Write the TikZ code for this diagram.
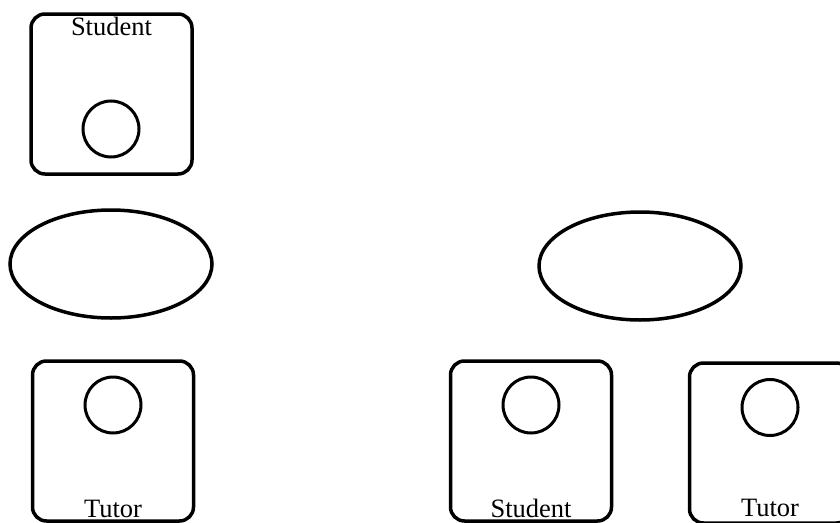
\documentclass[tikz,border=0pt]{standalone}
\usepackage{fontspec}
\setmainfont{Liberation Serif}
\usetikzlibrary{positioning,shapes.geometric}

\begin{document}
\begin{tikzpicture}[
    x=1pt, y=-1pt,
    role/.style={rectangle, draw, rounded corners=14pt, line width=3.5pt, minimum width=161pt, minimum height=160pt, inner sep=0pt},
    head/.style={circle, draw, line width=3pt, minimum size=56pt, inner sep=0pt},
    usecase/.style={ellipse, draw, line width=3.5pt, minimum width=202pt, minimum height=108pt, inner sep=0pt},
    rolename/.style={font=\fontsize{26.5}{30}\selectfont, anchor=base, inner sep=0pt}
]
\useasboundingbox (0,0) rectangle (840,522);
\clip (0,0) rectangle (840,522);

% left column
\node[role] (student) at (111.5,94) {};
\node[head] (studenthead) at (111,129) {};
\node[rolename] (studentname) at ([yshift=-23pt]student.north) {Student};

\node[usecase] (leftcase) at (111,264) {};

\node[role] (tutor) at (113,441) {};
\node[head] (tutorhead) at (113,405) {};
\node[rolename] (tutorname) at ([yshift=5pt]tutor.south) {Tutor};

% right group
\node[usecase] (rightcase) at (640,266) {};

\node[role] (student2) at (531,441) {};
\node[head] (student2head) at (531,405) {};
\node[rolename] (student2name) at ([yshift=5pt]student2.south) {Student};

\node[role] (tutor2) at (770,443) {};
\node[head] (tutor2head) at (770,407.5) {};
\node[rolename] (tutor2name) at ([yshift=8pt]tutor2.south) {Tutor};
\end{tikzpicture}
\end{document}
